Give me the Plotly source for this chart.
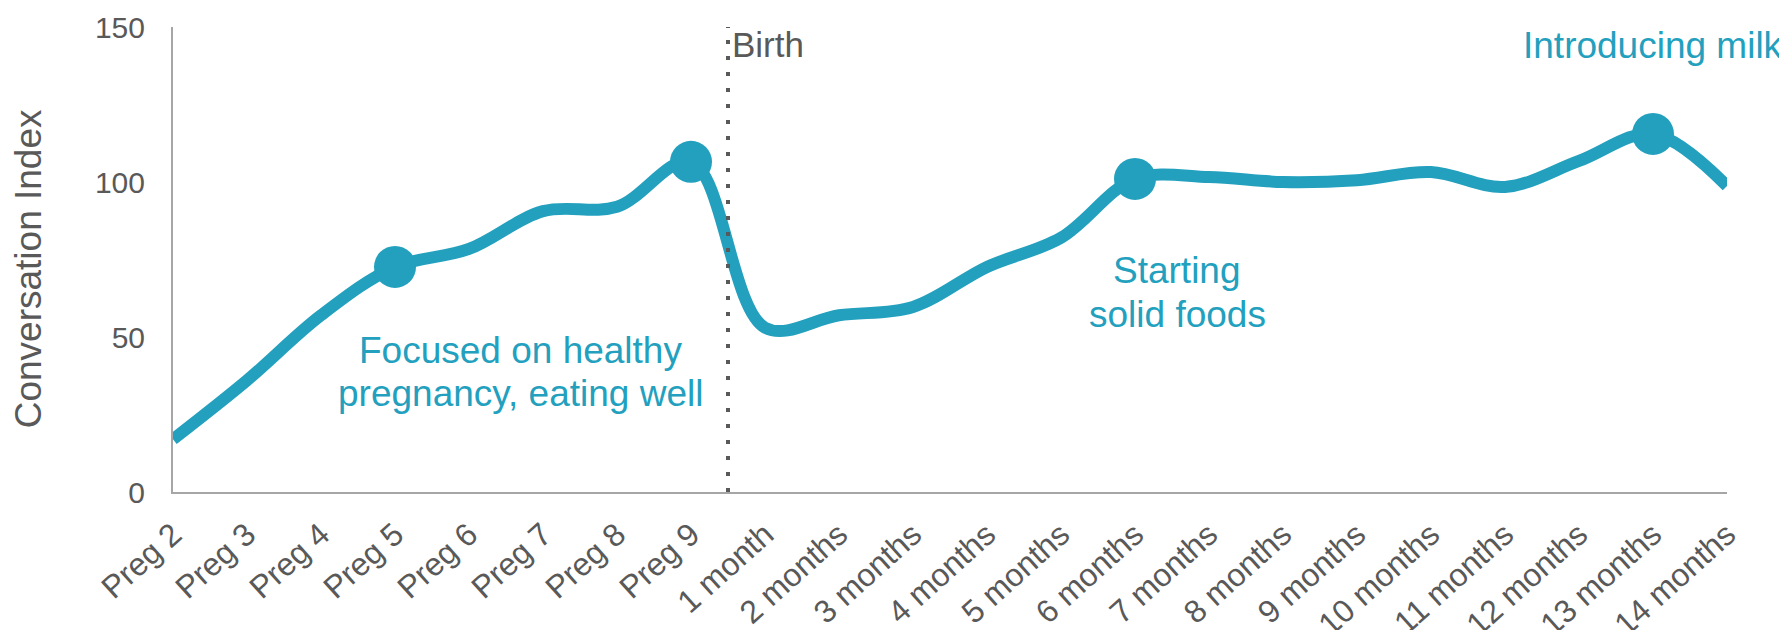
import plotly.graph_objects as go

categories = ["Preg 2", "Preg 3", "Preg 4", "Preg 5", "Preg 6", "Preg 7", "Preg 8", "Preg 9",
              "1 month", "2 months", "3 months", "4 months", "5 months", "6 months", "7 months",
              "8 months", "9 months", "10 months", "11 months", "12 months", "13 months", "14 months"]
conversation_index = [17, 36, 57, 72.6, 78.4, 90.6, 92, 106.5,
                      53, 57, 59.7, 72.6, 82, 101, 101.6,
                      100, 100.6, 103.2, 98.4, 106.8, 115.5, 98.7]
highlight_categories = ["Preg 5", "Preg 9", "6 months", "13 months"]
y_ticks = [0, 50, 100, 150]

TEAL = "#22A0BE"
GREY = "#595959"
AXIS = "#A6A6A6"
FONT = "Liberation Sans, Arial, sans-serif"

hl_idx = [categories.index(c) for c in highlight_categories]
hl_vals = [conversation_index[i] for i in hl_idx]

fig = go.Figure()
fig.add_trace(go.Scatter(
    x=categories, y=conversation_index, mode="lines",
    line=dict(color=TEAL, width=12, shape="spline", smoothing=1.0),
    hoverinfo="x+y", showlegend=False,
))
fig.add_trace(go.Scatter(
    x=highlight_categories, y=hl_vals, mode="markers",
    marker=dict(color=TEAL, size=42, line=dict(width=0)),
    showlegend=False,
))

# Birth divider
fig.add_shape(type="line", xref="x", yref="y", x0=7.5, x1=7.5, y0=0, y1=151,
              line=dict(color=GREY, width=4, dash="4px,12px"))

annots = [
    dict(text="Birth", x=7.5, y=144.4, xanchor="left", color=GREY, size=35, xshift=2),
    dict(text="Introducing milk", x=20, y=144, xanchor="center", color=TEAL, size=37),
    dict(text="Focused on healthy", x=4.7, y=45.8, xanchor="center", color=TEAL, size=37),
    dict(text="pregnancy, eating well", x=4.7, y=31.8, xanchor="center", color=TEAL, size=37),
    dict(text="Starting", x=13.57, y=71.6, xanchor="center", color=TEAL, size=37),
    dict(text="solid foods", x=13.57, y=57.3, xanchor="center", color=TEAL, size=37),
]
for a in annots:
    fig.add_annotation(text=a["text"], x=a["x"], y=a["y"], xref="x", yref="y",
                       xanchor=a["xanchor"], yanchor="middle", showarrow=False,
                       xshift=a.get("xshift", 0),
                       font=dict(family=FONT, size=a["size"], color=a["color"]))

# y-axis title (placed as a rotated annotation for exact vertical position)
fig.add_annotation(text="Conversation Index", xref="paper", yref="paper",
                   x=-0.093, y=0.48, xanchor="center", yanchor="middle",
                   textangle=-90, showarrow=False,
                   font=dict(family=FONT, size=37, color=GREY))

# the page body adds an 8px offset; margins compensate for it
fig.update_layout(
    template="none",
    width=1787, height=630,
    margin=dict(l=165, r=68, t=19, b=146),
    paper_bgcolor="white", plot_bgcolor="white",
    font=dict(family=FONT, color=GREY, size=30),
    showlegend=False,
)
fig.update_xaxes(
    type="category", range=[0, 21], showgrid=False, zeroline=False, automargin=False,
    showline=True, linecolor=AXIS, linewidth=2, ticks="",
    tickangle=-42, tickfont=dict(family=FONT, size=32, color=GREY), ticklabelstandoff=9,
)
fig.update_yaxes(
    range=[0, 150], tickvals=y_ticks, showgrid=False, zeroline=False, automargin=False,
    showline=True, linecolor=AXIS, linewidth=2, ticks="",
    tickfont=dict(family=FONT, size=30, color=GREY), ticklabelstandoff=20,
)

fig.write_html("out.html")
